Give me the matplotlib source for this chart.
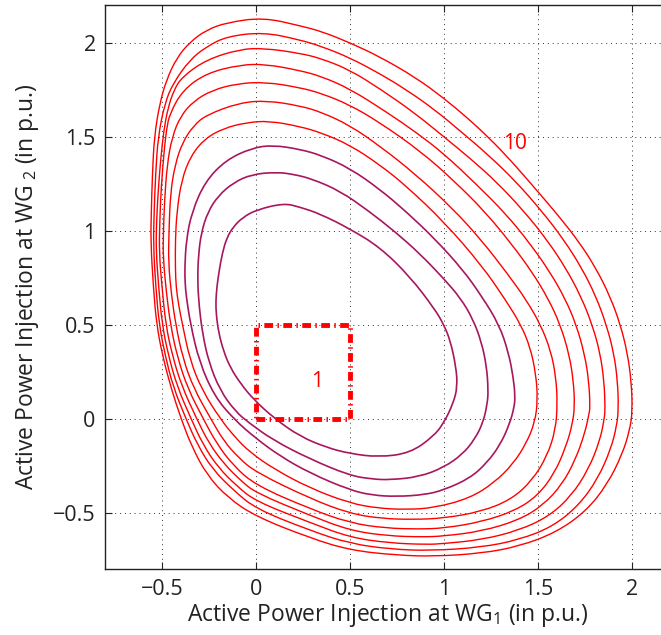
import matplotlib
matplotlib.use("Agg")
import matplotlib.pyplot as plt
from matplotlib.path import Path
from matplotlib.patches import PathPatch

# ---- data ----
levels = [1, 2, 3, 4, 5, 6, 7, 8, 9, 10]
level_labels = ["1", "10"]

contour_1 = [(0.15,1.146),(0.004,1.111),(-0.07,1.07),(-0.12,1.02),(-0.155,0.96),(-0.178,0.88),(-0.196,0.78),
             (-0.207,0.7),(-0.213,0.62),(-0.21,0.55),(-0.198,0.46),(-0.172,0.36),(-0.135,0.27),(-0.08,0.185),
             (-0.01,0.1),(0.1,0.0),(0.235,-0.095),(0.38,-0.155),(0.5,-0.186),(0.652,-0.205),(0.82,-0.184),
             (0.945,-0.095),(1.0,-0.024),(1.051,0.082),(1.073,0.17),(1.065,0.277),(1.035,0.415),(1.0,0.5),
             (0.954,0.58),(0.82,0.756),(0.66,0.912),(0.5,1.01),(0.34,1.09),(0.235,1.125)]
contour_2 = [(0.11,1.311),(-0.02,1.3),(-0.12,1.255),(-0.2,1.185),(-0.255,1.1),(-0.29,0.99),(-0.305,0.87),
             (-0.31,0.74),(-0.302,0.6),(-0.283,0.45),(-0.25,0.3),(-0.19,0.15),(-0.11,0.04),(-0.04,-0.02),
             (0.093,-0.115),(0.288,-0.215),(0.5,-0.303),(0.62,-0.322),(0.714,-0.326),(0.87,-0.31),(1.0,-0.26),
             (1.1,-0.19),(1.165,-0.11),(1.21,-0.02),(1.232,0.08),(1.237,0.15),(1.228,0.28),(1.2,0.41),
             (1.155,0.53),(1.09,0.64),(1.0,0.745),(0.87,0.88),(0.74,0.995),(0.6,1.105),(0.45,1.21),
             (0.3,1.275),(0.2,1.3)]
contour_3 = [(0.09,1.455),(-0.02,1.44),(-0.16,1.375),(-0.27,1.26),(-0.34,1.1),(-0.37,0.95),(-0.378,0.8),
             (-0.376,0.72),(-0.37,0.65),(-0.347,0.5),(-0.30,0.3),(-0.22,0.12),(-0.12,0.0),(0.0,-0.105),
             (0.13,-0.2),(0.288,-0.29),(0.5,-0.38),(0.62,-0.408),(0.75,-0.415),(0.9,-0.405),(1.0,-0.38),
             (1.14,-0.317),(1.23,-0.235),(1.3,-0.14),(1.35,-0.03),(1.375,0.06),(1.38,0.12),(1.37,0.22),
             (1.345,0.35),(1.295,0.5),(1.2,0.654),(1.1,0.794),(0.95,0.959),(0.8,1.101),(0.66,1.22),
             (0.5,1.332),(0.35,1.4),(0.235,1.433)]
contour_4 = [(0.07,1.584),(-0.05,1.575),(-0.17,1.545),(-0.27,1.49),(-0.345,1.4),(-0.395,1.27),(-0.42,1.1),
             (-0.428,0.95),(-0.428,0.8),(-0.424,0.7),(-0.41,0.6),(-0.39,0.5),(-0.35,0.31),(-0.285,0.15),
             (-0.19,0.0),(-0.11,-0.1),(-0.03,-0.18),(0.1,-0.27),(0.288,-0.37),(0.5,-0.45),(0.65,-0.477),
             (0.8,-0.484),(0.95,-0.475),(1.14,-0.423),(1.27,-0.34),(1.37,-0.24),(1.44,-0.13),(1.485,-0.02),
             (1.5,0.1),(1.49,0.24),(1.46,0.38),(1.41,0.5),(1.33,0.63),(1.2,0.818),(1.0,1.048),(0.8,1.238),
             (0.66,1.35),(0.5,1.456),(0.35,1.52),(0.235,1.554)]
contour_5 = [(0.06,1.692),(-0.085,1.681),(-0.262,1.616),(-0.33,1.56),(-0.39,1.47),(-0.43,1.35),(-0.454,1.199),
             (-0.462,1.0),(-0.465,0.83),(-0.449,0.66),(-0.426,0.5),(-0.388,0.32),(-0.33,0.16),(-0.24,0.0),
             (-0.17,-0.12),(-0.09,-0.21),(0.0,-0.285),(0.288,-0.425),(0.5,-0.505),(0.67,-0.532),(0.84,-0.537),
             (1.0,-0.53),(1.2,-0.495),(1.36,-0.43),(1.47,-0.33),(1.55,-0.2),(1.595,-0.06),(1.605,0.08),
             (1.597,0.22),(1.57,0.36),(1.515,0.5),(1.44,0.63),(1.34,0.77),(1.2,0.95),(1.05,1.115),(0.85,1.3),
             (0.66,1.45),(0.5,1.56),(0.35,1.63),(0.235,1.664)]
contour_6 = [(0.05,1.791),(-0.1,1.782),(-0.23,1.748),(-0.33,1.69),(-0.4,1.61),(-0.445,1.5),(-0.472,1.35),
             (-0.486,1.15),(-0.492,0.98),(-0.493,0.86),(-0.477,0.68),(-0.454,0.5),(-0.418,0.33),(-0.362,0.16),
             (-0.28,0.0),(-0.21,-0.13),(-0.12,-0.25),(0.0,-0.355),(0.288,-0.48),(0.5,-0.555),(0.69,-0.583),
             (0.87,-0.588),(1.0,-0.583),(1.2,-0.55),(1.38,-0.49),(1.5,-0.41),(1.59,-0.29),(1.65,-0.15),
             (1.685,-0.03),(1.697,0.07),(1.69,0.2),(1.668,0.34),(1.62,0.5),(1.555,0.64),(1.47,0.78),
             (1.36,0.93),(1.22,1.1),(1.06,1.26),(0.88,1.42),(0.66,1.575),(0.5,1.669),(0.35,1.73),(0.235,1.761)]
contour_7 = [(0.05,1.886),(-0.085,1.882),(-0.262,1.838),(-0.387,1.749),(-0.457,1.625),(-0.475,1.54),
             (-0.488,1.42),(-0.503,1.235),(-0.511,1.05),(-0.514,0.88),(-0.499,0.7),(-0.479,0.5),(-0.445,0.34),
             (-0.395,0.175),(-0.315,0.0),(-0.25,-0.13),(-0.17,-0.24),(-0.08,-0.33),(0.0,-0.395),(0.288,-0.515),
             (0.5,-0.595),(0.7,-0.624),(0.89,-0.63),(1.0,-0.625),(1.2,-0.6),(1.4,-0.54),(1.53,-0.46),
             (1.63,-0.35),(1.7,-0.22),(1.75,-0.08),(1.772,0.02),(1.779,0.06),(1.772,0.2),(1.75,0.34),
             (1.705,0.5),(1.645,0.64),(1.565,0.78),(1.46,0.93),(1.33,1.09),(1.17,1.25),(1.0,1.41),
             (0.85,1.525),(0.7,1.628),(0.5,1.755),(0.35,1.82),(0.235,1.852)]
contour_8 = [(0.04,1.971),(-0.085,1.965),(-0.262,1.91),(-0.39,1.82),(-0.435,1.75),(-0.468,1.65),(-0.49,1.53),
             (-0.507,1.37),(-0.52,1.2),(-0.528,1.05),(-0.531,0.9),(-0.517,0.7),(-0.498,0.5),(-0.466,0.34),
             (-0.418,0.17),(-0.345,0.0),(-0.28,-0.14),(-0.2,-0.26),(-0.1,-0.36),(0.0,-0.44),(0.288,-0.553),
             (0.5,-0.632),(0.71,-0.662),(0.91,-0.67),(1.0,-0.665),(1.2,-0.645),(1.4,-0.595),(1.56,-0.52),
             (1.68,-0.41),(1.77,-0.27),(1.83,-0.12),(1.855,0.0),(1.859,0.06),(1.853,0.2),(1.832,0.35),
             (1.79,0.5),(1.73,0.65),(1.65,0.8),(1.55,0.95),(1.43,1.1),(1.28,1.26),(1.14,1.385),(1.0,1.5),
             (0.84,1.63),(0.66,1.755),(0.5,1.855),(0.35,1.915),(0.235,1.944)]
contour_9 = [(0.04,2.056),(-0.155,2.033),(-0.262,1.979),(-0.351,1.909),(-0.44,1.784),(-0.484,1.678),(-0.52,1.5),
             (-0.533,1.3),(-0.541,1.1),(-0.545,0.92),(-0.532,0.7),(-0.514,0.5),(-0.483,0.34),(-0.44,0.17),
             (-0.372,0.0),(-0.31,-0.14),(-0.23,-0.27),(-0.12,-0.38),(0.0,-0.48),(0.288,-0.595),(0.5,-0.665),
             (0.72,-0.695),(0.93,-0.703),(1.2,-0.685),(1.4,-0.645),(1.58,-0.575),(1.72,-0.46),(1.82,-0.32),
             (1.89,-0.16),(1.92,-0.04),(1.93,0.05),(1.925,0.2),(1.905,0.35),(1.865,0.5),(1.81,0.65),
             (1.735,0.8),(1.64,0.95),(1.525,1.1),(1.385,1.26),(1.24,1.4),(1.1,1.52),(0.95,1.645),(0.8,1.75),
             (0.66,1.835),(0.5,1.92),(0.35,1.98),(0.235,2.015)]
contour_10 = [(0.04,2.134),(-0.155,2.107),(-0.262,2.068),(-0.351,2.003),(-0.422,1.917),(-0.475,1.802),
              (-0.511,1.678),(-0.54,1.5),(-0.55,1.3),(-0.556,1.1),(-0.559,0.94),(-0.545,0.7),(-0.528,0.5),
              (-0.495,0.33),(-0.45,0.16),(-0.398,0.0),(-0.34,-0.15),(-0.26,-0.3),(-0.15,-0.42),(0.0,-0.521),
              (0.288,-0.635),(0.5,-0.70),(0.75,-0.727),(0.95,-0.733),(1.2,-0.717),(1.4,-0.68),(1.6,-0.605),
              (1.76,-0.49),(1.87,-0.35),(1.95,-0.19),(1.99,-0.06),(2.004,0.04),(1.998,0.2),(1.977,0.35),
              (1.94,0.5),(1.885,0.65),(1.81,0.8),(1.72,0.94),(1.61,1.08),(1.49,1.22),(1.36,1.37),
              (1.24,1.495),(1.12,1.605),(1.0,1.705),(0.85,1.815),(0.66,1.925),(0.5,2.0),(0.35,2.06),
              (0.235,2.09)]
contours = [contour_1, contour_2, contour_3, contour_4, contour_5,
            contour_6, contour_7, contour_8, contour_9, contour_10]

box_x = [0.0, 0.5, 0.5, 0.0, 0.0]
box_y = [0.0, 0.0, 0.5, 0.5, 0.0]

x_ticks = [-0.5, 0, 0.5, 1, 1.5, 2]
y_ticks = [-0.5, 0, 0.5, 1, 1.5, 2]
x_tick_labels = ["\u22120.5", "0", "0.5", "1", "1.5", "2"]
y_tick_labels = ["\u22120.5", "0", "0.5", "1", "1.5", "2"]


def closed_smooth_path(pts):
    """Closed quadratic B-spline path whose control polygon is the read vertices."""
    n = len(pts)
    mids = [((pts[i][0] + pts[(i + 1) % n][0]) / 2, (pts[i][1] + pts[(i + 1) % n][1]) / 2)
            for i in range(n)]
    verts = [mids[0]]
    codes = [Path.MOVETO]
    for i in range(1, n + 1):
        verts += [pts[i % n], mids[i % n]]
        codes += [Path.CURVE3, Path.CURVE3]
    return Path(verts, codes)


# ---- style ----
plt.rcParams['font.family'] = ['Open Sans', 'DejaVu Sans']
plt.rcParams['mathtext.fontset'] = 'custom'
plt.rcParams['mathtext.rm'] = 'Open Sans'
plt.rcParams['mathtext.it'] = 'Open Sans'

fig = plt.figure(figsize=(6.61, 6.35), dpi=100)
ax = fig.add_axes([0.1595, 0.104, 0.853, 0.888])

purple = '#A8175E'
red = '#FF0000'
for lev, pts in zip(levels, contours):
    patch = PathPatch(closed_smooth_path(pts), facecolor='none',
                      edgecolor=purple if lev <= 3 else red,
                      lw=1.2 if lev <= 3 else 1.0, zorder=3)
    ax.add_patch(patch)

ax.plot(box_x, box_y, color=red, lw=3.5, linestyle=(0, (1.8, 0.9, 0.3, 0.9)),
        dash_capstyle='butt', zorder=4)

ax.text(0.327, 0.197, level_labels[0], color=red, fontsize=15, ha='center', va='center')
ax.text(1.38, 1.465, level_labels[1], color=red, fontsize=15, ha='center', va='center')

ax.set_xlim(-0.8, 2.2)
ax.set_ylim(-0.8, 2.2)
ax.set_xticks(x_ticks)
ax.set_xticklabels(x_tick_labels)
ax.set_yticks(y_ticks)
ax.set_yticklabels(y_tick_labels)
ax.tick_params(direction='in', length=5, width=0.8, top=True, right=True,
               labelsize=15.5, pad=7, colors='#222222')
ax.grid(True, linestyle=(0, (1, 4)), color='#333333', lw=0.7)
for s in ax.spines.values():
    s.set_linewidth(1.0)
    s.set_color('#222222')

ax.set_xlabel(r'Active Power Injection at WG$_1$ (in p.u.)', fontsize=16.5, labelpad=2, color='#222222')
ax.set_ylabel(r'Active Power Injection at WG$_{\ 2}$ (in p.u.)', fontsize=16.5, labelpad=9, color='#222222')

fig.savefig('out.png', dpi=100)
